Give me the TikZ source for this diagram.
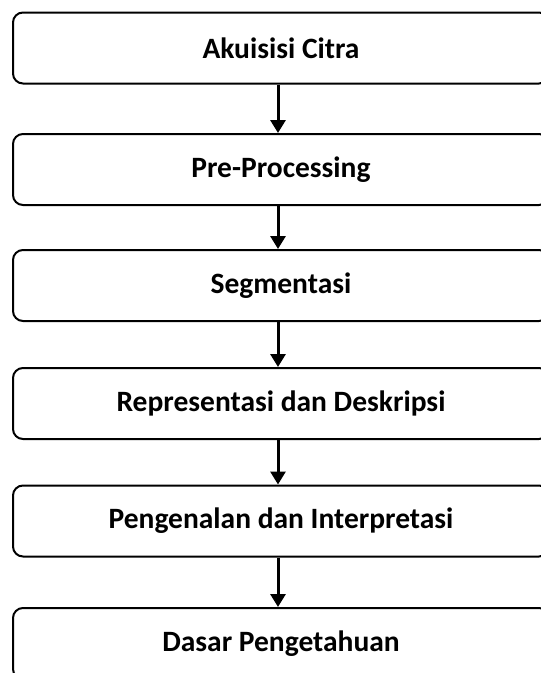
\documentclass[tikz,border=0pt]{standalone}
\usepackage{fontspec}
\setmainfont{Carlito}
\usepackage{tikz}
\usetikzlibrary{arrows.meta}

\begin{document}
\begin{tikzpicture}[x=1pt,y=-1pt,
	tahap/.style={draw=black, line width=2pt, rounded corners=10pt, minimum width=536pt, minimum height=71pt, font=\bfseries\fontsize{29.5}{34}\selectfont},
	panah/.style={line width=3pt, -{Triangle[width=15pt,length=13pt]}}]
	
		\clip (0,0) rectangle (541,673);
		\node[tahap] (akuisisi) at (281,48) {Akuisisi Citra};
		\node[tahap] (preproc) at (281,169.5) {Pre-Processing};
		\node[tahap] (segmen) at (281,285.5) {Segmentasi};
		\node[tahap] (repdes) at (281,403.5) {Representasi dan Deskripsi};
		\node[tahap] (kenal) at (281,521) {Pengenalan dan Interpretasi};
		\node[tahap] (dasar) at (281,643.5) {Dasar Pengetahuan};
		\draw[panah] ([xshift=-3pt]akuisisi.south) -- ([xshift=-3pt]preproc.north);
		\draw[panah] ([xshift=-3pt]preproc.south) -- ([xshift=-3pt]segmen.north);
		\draw[panah] ([xshift=-3pt]segmen.south) -- ([xshift=-3pt]repdes.north);
		\draw[panah] ([xshift=-3pt]repdes.south) -- ([xshift=-3pt]kenal.north);
		\draw[panah] ([xshift=-3pt]kenal.south) -- ([xshift=-3pt]dasar.north);
	\end{tikzpicture}
\end{document}
